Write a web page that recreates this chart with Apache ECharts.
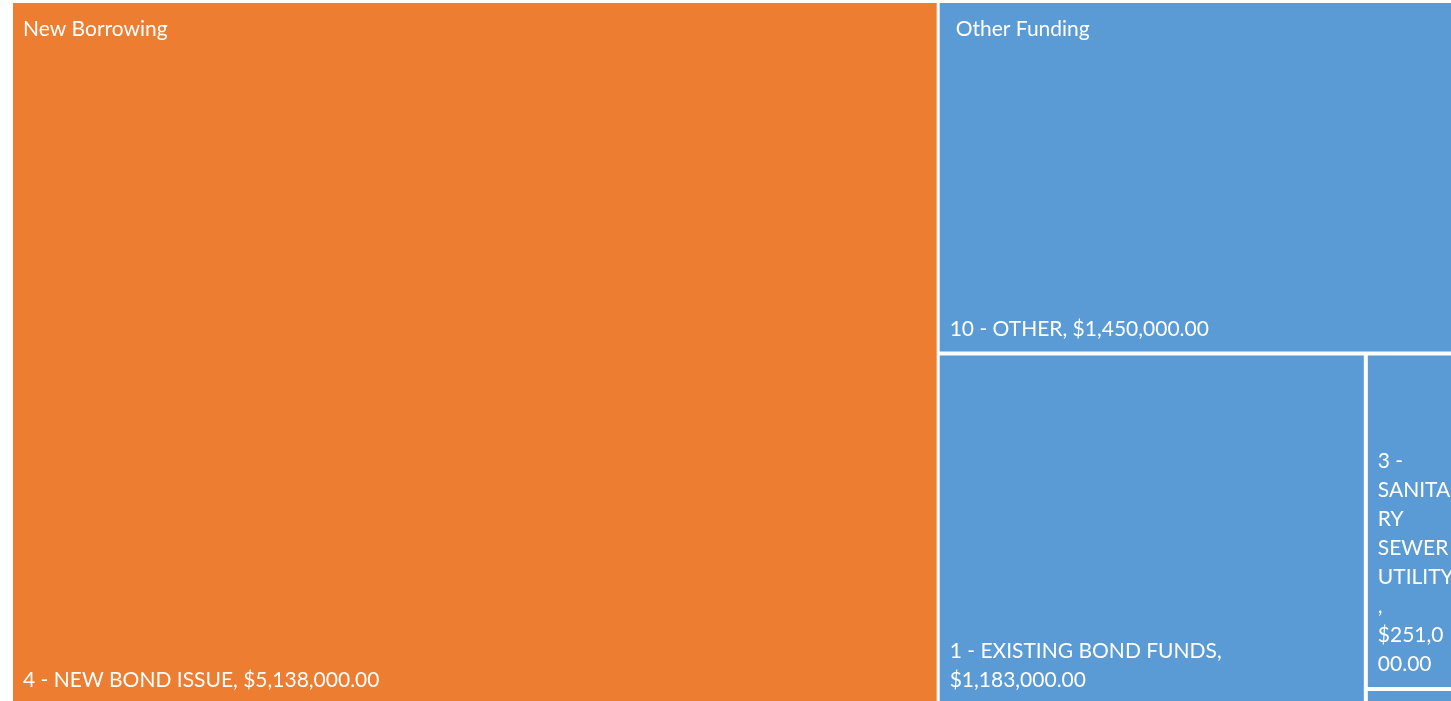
<!DOCTYPE html>
<html>
<head>
<meta charset="utf-8">
<script src="https://cdn.jsdelivr.net/npm/echarts@6/dist/echarts.min.js"></script>
<style>
html,body{margin:0;padding:0;background:#fff;}
#chart{width:1451px;height:701px;}
</style>
</head>
<body>
<div id="chart"></div>
<script>
// Data
const groups = ['New Borrowing', 'Other Funding'];
const groupColors = ['#ED7D31', '#5B9BD5'];
const newBorrowingNames = ['4 - NEW BOND ISSUE'];
const newBorrowingValues = [5138000];
const otherFundingNames = ['10 - OTHER', '1 - EXISTING BOND FUNDS', '3 - SANITARY SEWER UTILITY', 'Unlabeled item'];
const otherFundingValues = [1450000, 1183000, 251000, 12000];
const hiddenLabels = ['Unlabeled item'];

const fmt = v => '$' + v.toLocaleString('en-US', {minimumFractionDigits: 2, maximumFractionDigits: 2});
const FONT = 'Lato';
const FS = 21;
const PAD_L = 10, PAD_R = 4.5;

// Excel-like word wrap: break at spaces; words too long for a line are broken by characters
const ctx = document.createElement('canvas').getContext('2d');
ctx.font = FS + 'px ' + FONT;
const tw = s => ctx.measureText(s).width;
function wrap(text, maxW) {
  const words = text.split(' ');
  const lines = [];
  let cur = '';
  for (const w of words) {
    const cand = cur ? cur + ' ' + w : w;
    if (tw(cand) <= maxW) { cur = cand; continue; }
    if (cur) lines.push(cur);
    let rest = w;
    while (tw(rest) > maxW && rest.length > 1) {
      let k = 1;
      while (k < rest.length && tw(rest.slice(0, k + 1)) <= maxW) k++;
      lines.push(rest.slice(0, k));
      rest = rest.slice(k);
    }
    cur = rest;
  }
  if (cur) lines.push(cur);
  return lines.join('\n');
}

function leaves(names, values, color) {
  return names.map((n, i) => ({
    name: n,
    value: values[i],
    itemStyle: { color: color },
    label: hiddenLabels.includes(n) ? { show: false } : undefined
  }));
}
const groupData = [
  { name: groups[0], children: leaves(newBorrowingNames, newBorrowingValues, groupColors[0]) },
  { name: groups[1], children: leaves(otherFundingNames, otherFundingValues, groupColors[1]) }
];
const groupTotals = [
  newBorrowingValues.reduce((a, b) => a + b, 0),
  otherFundingValues.reduce((a, b) => a + b, 0)
];
const groupLabelPadLeft = [10, 16];

const rect = { left: 13, top: 3, width: 1446, height: 700 };
const common = Object.assign({
  type: 'treemap', roam: false, nodeClick: false, squareRatio: 1,
  breadcrumb: { show: false }, animation: false, sort: 'desc'
}, rect);

const CLEAR = 'rgba(0,0,0,0)';
const chart = echarts.init(document.getElementById('chart'), null, { renderer: 'canvas' });

function leafLabel(p) {
  const text = p.name + ', ' + fmt(p.value);
  let w = null;
  try {
    const lay = chart.getModel().getSeriesByIndex(0).getData().getItemLayout(p.dataIndex);
    if (lay && lay.width) w = lay.width - PAD_L - PAD_R;
  } catch (e) {}
  return w ? wrap(text, w) : text;
}

chart.setOption({
  backgroundColor: '#fff',
  animation: false,
  series: [
    Object.assign({}, common, {
      z: 2,
      data: groupData,
      levels: [
        { itemStyle: { borderColor: '#fff', borderWidth: 0, gapWidth: 3 } },
        { itemStyle: { borderColor: '#fff', borderWidth: 0, gapWidth: 4 } },
        { itemStyle: { borderWidth: 0, gapWidth: 0 } }
      ],
      label: {
        show: true, position: 'insideBottomLeft', color: '#fff',
        fontFamily: FONT, fontSize: FS, lineHeight: 29,
        padding: [0, PAD_R, 8, PAD_L], overflow: 'none',
        formatter: leafLabel
      },
      emphasis: { disabled: true }
    }),
    Object.assign({}, common, {
      z: 10,
      silent: true,
      data: groups.map((g, i) => ({
        name: g, value: groupTotals[i],
        label: { padding: [16, 4, 0, groupLabelPadLeft[i]] }
      })),
      levels: [
        { itemStyle: { color: CLEAR, borderColor: CLEAR, borderWidth: 0, gapWidth: 3 } },
        { itemStyle: { color: CLEAR, borderColor: CLEAR, borderWidth: 0 } }
      ],
      label: {
        show: true, position: 'insideTopLeft', color: '#fff',
        fontFamily: FONT, fontSize: FS,
        formatter: p => p.name
      },
      emphasis: { disabled: true }
    })
  ]
});
</script>
</body>
</html>
